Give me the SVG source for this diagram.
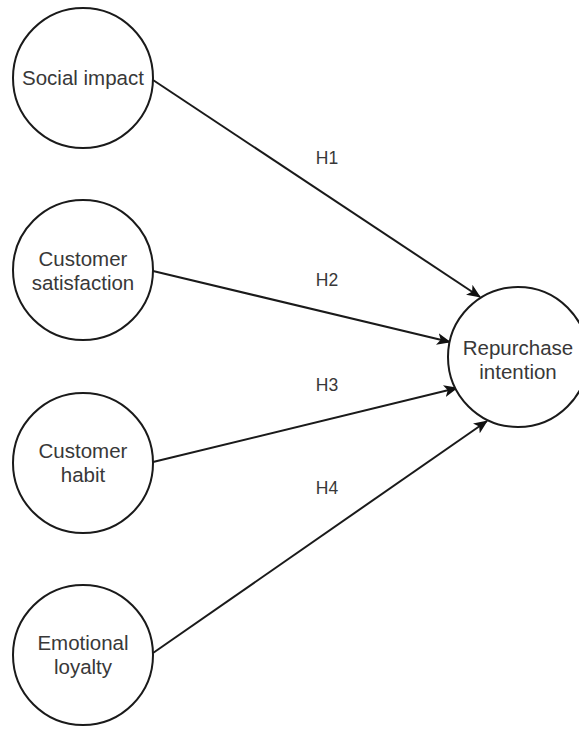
<svg xmlns="http://www.w3.org/2000/svg" width="579" height="729" viewBox="0 0 579 729">
<defs>
<style>
.node{fill:#ffffff;stroke:#1a1a1a;stroke-width:2}
.lbl{font-family:"Liberation Sans",Arial,sans-serif;font-size:20.5px;fill:#383838;text-anchor:middle}
.h{font-family:"Liberation Sans",Arial,sans-serif;font-size:17.5px;fill:#383838;text-anchor:middle}
.edge{stroke:#1a1a1a;stroke-width:2;fill:none}
</style>
<marker id="arr" viewBox="0 0 14 12" refX="13" refY="6" markerWidth="14" markerHeight="12" markerUnits="userSpaceOnUse" orient="auto">
<path d="M0,0 L14,6 L0,12 L3.5,6 Z" fill="#111111"/>
</marker>
</defs>
<rect width="579" height="729" fill="#ffffff"/>
<g id="edges">
<line class="edge" x1="153" y1="80" x2="480" y2="297" marker-end="url(#arr)"/>
<line class="edge" x1="153" y1="271" x2="450" y2="342" marker-end="url(#arr)"/>
<line class="edge" x1="153" y1="462" x2="457" y2="388" marker-end="url(#arr)"/>
<line class="edge" x1="153" y1="653" x2="487" y2="421" marker-end="url(#arr)"/>
<text class="h" x="327" y="164">H1</text>
<text class="h" x="327" y="286">H2</text>
<text class="h" x="327" y="391">H3</text>
<text class="h" x="327" y="494">H4</text>
</g>
<g id="social-impact">
<circle class="node" cx="83" cy="78" r="70"/>
<text class="lbl" x="83" y="85">Social impact</text>
</g>
<g id="customer-satisfaction">
<circle class="node" cx="83" cy="270" r="70"/>
<text class="lbl" x="83" y="266">Customer</text>
<text class="lbl" x="83" y="290">satisfaction</text>
</g>
<g id="customer-habit">
<circle class="node" cx="83" cy="463" r="70"/>
<text class="lbl" x="83" y="458">Customer</text>
<text class="lbl" x="83" y="482">habit</text>
</g>
<g id="emotional-loyalty">
<circle class="node" cx="83" cy="655" r="70"/>
<text class="lbl" x="83" y="650">Emotional</text>
<text class="lbl" x="83" y="674">loyalty</text>
</g>
<g id="repurchase-intention">
<circle class="node" cx="518" cy="357" r="70"/>
<text class="lbl" x="518" y="355">Repurchase</text>
<text class="lbl" x="518" y="379">intention</text>
</g>
</svg>
